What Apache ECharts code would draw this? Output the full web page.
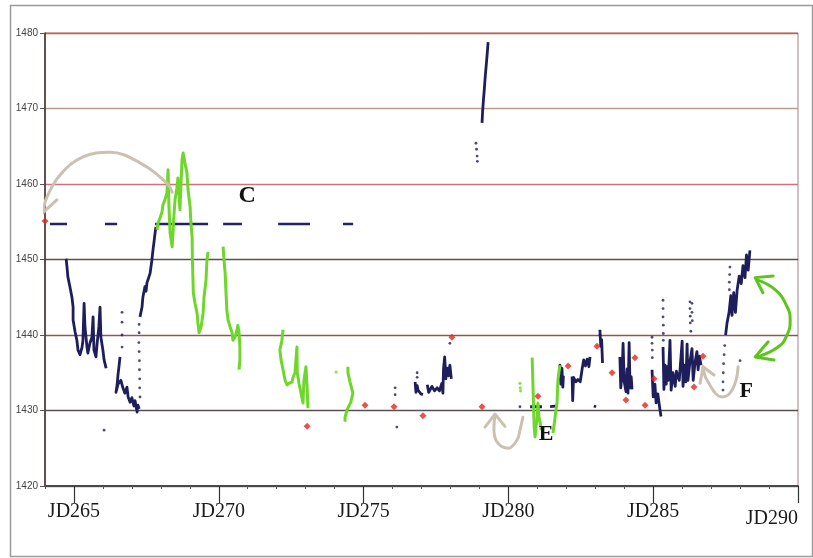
<!DOCTYPE html>
<html>
<head>
<meta charset="utf-8">
<script src="https://cdn.jsdelivr.net/npm/echarts@6/dist/echarts.min.js"></script>
<style>
  html, body { margin: 0; padding: 0; background: #ffffff; }
  #chart { width: 813px; height: 558px; }
</style>
</head>
<body>
<div id="chart"></div>
<script>
// ---- axis ranges and tick labels ----
const dayMin = 264, dayMax = 290;
const levelMin = 1420, levelMax = 1480, levelStep = 10;
const dayLabels = [265, 270, 275, 280, 285, 290];

// ---- continuous logger traces (Julian day, level) ----
const navyTraces = [
  [[264.73,1450.1],[264.76,1449.0],[264.79,1447.7],[264.86,1446.4],[264.93,1445.0],[264.97,1443.7],[264.97,1442.0],[265.04,1440.4],[265.10,1439.3],[265.14,1438.0],[265.21,1437.4],[265.28,1438.4],[265.31,1439.3],[265.35,1444.2],[265.38,1441.1],[265.45,1438.4],[265.48,1437.6],[265.55,1438.9],[265.62,1439.7],[265.66,1442.4],[265.69,1438.0],[265.76,1437.1],[265.80,1438.9],[265.86,1441.1],[265.90,1443.7],[265.93,1439.7],[266.00,1438.0],[266.04,1436.7],[266.11,1435.6]],
  [[266.59,1437.1],[266.56,1436.0],[266.52,1434.7],[266.49,1433.4],[266.45,1432.4],[266.52,1433.5],[266.62,1434.0],[266.69,1433.0],[266.76,1432.3],[266.83,1433.1],[266.87,1431.8],[266.94,1431.1],[267.00,1431.7],[267.07,1430.6],[267.11,1431.3],[267.18,1429.8],[267.21,1430.7],[267.25,1430.2]],
  [[267.28,1442.4],[267.35,1443.7],[267.38,1445.0],[267.45,1446.4],[267.49,1445.8],[267.52,1446.9],[267.58,1447.6],[267.63,1448.2],[267.66,1448.0],[267.69,1449.9],[267.73,1451.3],[267.76,1452.2],[267.80,1453.5],[267.83,1454.3]],
  [[276.78,1433.8],[276.80,1432.8],[276.81,1432.4],[276.85,1433.3],[276.88,1432.7],[276.93,1432.9],[276.98,1432.2],[277.05,1432.1]],
  [[277.20,1433.4],[277.25,1432.4],[277.29,1432.7],[277.36,1433.2],[277.45,1432.6],[277.54,1433.0],[277.62,1432.6],[277.70,1433.6],[277.74,1432.3],[277.76,1435.5],[277.80,1437.1],[277.84,1434.2],[277.88,1435.6],[277.93,1434.6],[277.98,1436.0],[278.03,1434.2]],
  [[279.09,1468.1],[279.11,1469.6],[279.14,1471.2],[279.17,1472.6],[279.20,1474.2],[279.23,1475.5],[279.27,1477.3],[279.30,1478.8]],
  [[280.75,1430.5],[281.16,1430.5]],
  [[281.44,1430.5],[281.71,1430.6]],
  [[281.76,1434.0],[281.78,1436.0],[281.81,1433.5],[281.85,1435.6],[281.88,1433.1],[281.90,1434.6]],
  [[282.20,1434.5],[282.22,1431.3],[282.25,1434.4],[282.33,1433.8],[282.40,1434.1],[282.48,1433.8],[282.55,1435.6],[282.60,1436.7],[282.66,1435.9],[282.72,1436.8],[282.78,1435.8],[282.82,1437.1]],
  [[282.95,1430.6],[283.03,1430.5]],
  [[283.16,1440.7],[283.19,1438.5],[283.22,1439.4],[283.25,1436.3]],
  [[283.85,1437.1],[283.88,1433.0],[283.93,1435.0],[283.96,1438.9],[284.00,1433.8],[284.06,1432.5],[284.10,1435.5],[284.13,1432.3],[284.17,1439.0],[284.20,1433.0],[284.24,1434.5],[284.27,1432.8]],
  [[284.96,1435.4],[285.00,1431.8],[285.06,1433.5],[285.10,1431.0],[285.16,1432.2],[285.23,1430.2],[285.27,1429.2]],
  [[285.34,1438.4],[285.37,1432.8],[285.41,1436.0],[285.45,1433.5],[285.48,1435.8],[285.52,1434.0],[285.58,1439.3],[285.62,1432.7],[285.68,1435.0],[285.76,1433.2],[285.80,1435.2],[285.90,1434.0],[286.00,1439.2],[286.03,1433.2],[286.08,1436.0],[286.13,1433.8],[286.17,1438.8],[286.20,1434.0],[286.27,1436.5],[286.34,1438.2],[286.38,1434.0],[286.45,1436.5],[286.51,1437.8],[286.55,1435.4],[286.60,1437.2],[286.65,1436.0]],
  [[287.50,1440.0],[287.55,1441.6],[287.62,1443.0],[287.68,1445.2],[287.72,1442.6],[287.78,1445.6],[287.84,1443.0],[287.90,1446.0],[287.97,1447.8],[288.04,1446.8],[288.10,1449.2],[288.17,1447.6],[288.22,1450.6],[288.28,1448.6],[288.34,1451.2]]
];

const navyDots = [
  [266.66,1443.0],[266.66,1441.7],[266.66,1440.0],[266.66,1438.4],[266.04,1427.4],
  [267.25,1441.4],[267.25,1440.3],[267.24,1439.0],[267.25,1437.8],[267.26,1436.6],[267.26,1435.4],[267.27,1434.2],[267.27,1433.0],[267.28,1431.8],
  [276.09,1433.0],[276.09,1432.1],[276.15,1427.8],[276.85,1435.0],[276.85,1434.4],[277.98,1438.9],
  [278.88,1465.4],[278.90,1464.6],[278.92,1463.7],[278.93,1463.0],
  [280.40,1430.5],[283.16,1440.0],
  [284.96,1439.7],[284.96,1438.9],[284.97,1438.0],[284.97,1437.0],
  [285.34,1444.6],[285.34,1443.5],[285.34,1442.4],[285.35,1441.3],[285.35,1440.2],[285.35,1439.3],
  [286.27,1444.4],[286.27,1443.5],[286.28,1442.5],[286.28,1441.6],[286.30,1440.5],
  [286.34,1444.2],[286.34,1443.0],[286.35,1441.9],
  [287.41,1432.7],[287.41,1433.8],[287.42,1435.0],[287.43,1436.2],[287.45,1437.4],[287.47,1438.6],
  [287.65,1449.0],[287.64,1448.0],[287.63,1447.0],[287.63,1446.0],[288.00,1436.6]
];

const greenTraces = [
  [[267.87,1453.9],[267.90,1454.8],[267.97,1455.5],[268.04,1456.3],[268.07,1457.2],[268.14,1457.9],[268.21,1458.8],[268.25,1461.9],[268.28,1457.0],[268.32,1453.5],[268.39,1451.7],[268.42,1453.5],[268.44,1455.2],[268.49,1457.9],[268.56,1459.6],[268.59,1460.8],[268.66,1456.6],[268.73,1463.2],[268.77,1464.1],[268.83,1462.8],[268.90,1461.5],[268.94,1459.2],[269.01,1457.0],[269.04,1454.8],[269.08,1453.0],[269.09,1449.9],[269.11,1447.3],[269.12,1445.6],[269.18,1444.2],[269.25,1442.9],[269.28,1441.6],[269.32,1440.3],[269.39,1441.1],[269.46,1442.9],[269.49,1445.0],[269.56,1447.3],[269.59,1449.9],[269.63,1451.0]],
  [[270.15,1451.7],[270.18,1449.9],[270.22,1448.2],[270.25,1445.6],[270.28,1443.3],[270.32,1442.0],[270.39,1441.1],[270.46,1440.3],[270.49,1439.3],[270.56,1439.7],[270.63,1440.7],[270.66,1441.3],[270.70,1440.3],[270.73,1438.4],[270.73,1436.7],[270.70,1435.4]],
  [[272.22,1440.7],[272.18,1439.3],[272.11,1438.0],[272.15,1436.7],[272.22,1435.4],[272.29,1434.0],[272.36,1433.4],[272.43,1433.6],[272.53,1433.8],[272.56,1434.3],[272.63,1435.0],[272.70,1438.4],[272.71,1435.0],[272.77,1433.6],[272.84,1432.3],[272.91,1431.0],[272.94,1434.0],[273.01,1435.8],[273.05,1433.1],[273.08,1430.3]],
  [[274.46,1435.8],[274.46,1435.0],[274.53,1433.8],[274.63,1432.3],[274.56,1431.1],[274.43,1430.1],[274.36,1429.1],[274.36,1428.5]],
  [[280.82,1437.0],[280.84,1434.5],[280.85,1433.1],[280.87,1430.5],[280.89,1427.8],[280.92,1426.5],[280.96,1428.0],[280.99,1428.7],[281.02,1431.0],[281.06,1429.0],[281.10,1428.4],[281.13,1427.4]],
  [[281.54,1427.0],[281.60,1428.7],[281.64,1430.0],[281.68,1431.0],[281.71,1434.0],[281.75,1435.2],[281.78,1436.0]]
];

const greenDots = [
  [274.05,1435.1],[280.40,1433.6],[280.41,1433.0],[280.42,1432.6]
];

// ---- reference level shown as dashes ----
const refLevel = 1454.7;
const refDashes = [[264.17,264.76],[266.07,266.49],[267.80,269.63],[270.15,270.80],[272.05,273.15],[274.29,274.64]];

// ---- daily spot measurements ----
const spotChecks = [
  [264.00,1455.1],[273.05,1427.9],[275.05,1430.7],[276.05,1430.5],[277.05,1429.3],[278.05,1439.7],
  [279.09,1430.5],[281.02,1431.9],[282.06,1435.9],[283.06,1438.5],[283.58,1435.0],[284.06,1431.4],
  [284.37,1437.0],[284.72,1430.7],[285.03,1434.2],[286.41,1433.1],[286.72,1437.2]
];

// ---- hand-drawn annotations (in chart units) ----
const tanStrokes = [
  { smooth: 0.4, pts: [[263.93,1456.2],[264.07,1458.3],[264.52,1461.2],[265.31,1463.6],[266.24,1464.2],[267.28,1462.8],[268.21,1460.1],[268.39,1458.9]] },
  { smooth: 0, pts: [[263.72,1458.1],[263.93,1456.2],[264.41,1457.9]] },
  { smooth: 0, pts: [[279.19,1427.8],[279.54,1429.5],[279.88,1427.9]] },
  { smooth: 0.4, pts: [[279.54,1429.5],[279.50,1427.6],[279.61,1425.8],[279.99,1425.0],[280.30,1426.1],[280.40,1427.4],[280.50,1429.1]] },
  { smooth: 0, pts: [[286.62,1433.6],[286.72,1435.8],[287.10,1434.7]] },
  { smooth: 0.4, pts: [[286.72,1435.8],[286.86,1434.0],[287.38,1431.8],[287.65,1432.3],[287.86,1434.0],[287.93,1435.8]] }
];
const greenStrokes = [
  { smooth: 0.5, pts: [[288.59,1447.3],[289.21,1446.0],[289.59,1444.0],[289.73,1442.0],[289.62,1440.0],[289.31,1438.4],[288.59,1437.1]] },
  { smooth: 0, pts: [[289.14,1447.8],[288.52,1447.6],[288.79,1445.6]] },
  { smooth: 0, pts: [[288.97,1439.1],[288.52,1437.1],[289.17,1436.7]] }
];
const letters = [
  { name: 'C', at: [270.98,1458.5], size: 24 },
  { name: 'E', at: [281.30,1426.9], size: 22 },
  { name: 'F', at: [288.21,1432.6], size: 22 }
];

// ---- colours ----
const navy = '#1e1e5c';
const lime = '#6fd62c';
const red = '#e4281c';
const tan = '#cbc1b0';
const arrowGreen = '#5cc41c';
const gridColors = ['#777777', '#585050', '#8a5a52', '#5c5048', '#cf6e7c', '#bb9c8c', '#c8603e'];

const series = [];

refDashes.forEach(d => series.push({
  type: 'line', data: [[d[0], refLevel], [d[1], refLevel]], symbol: 'none',
  lineStyle: { color: '#22226a', width: 2.5 }, z: 2, silent: true
}));

navyTraces.forEach(t => series.push({
  type: 'line', data: t, symbol: 'none',
  lineStyle: { color: navy, width: 2.8, join: 'round' }, z: 3, silent: true
}));
series.push({ type: 'scatter', data: navyDots, symbol: 'circle', symbolSize: 2.8,
  itemStyle: { color: navy }, z: 3, silent: true });

greenTraces.forEach(t => series.push({
  type: 'line', data: t, symbol: 'none',
  lineStyle: { color: lime, width: 3, join: 'round' }, z: 4, silent: true
}));
series.push({ type: 'scatter', data: greenDots, symbol: 'circle', symbolSize: 3.2,
  itemStyle: { color: lime }, z: 4, silent: true });

series.push({ type: 'scatter', data: spotChecks, symbol: 'diamond', symbolSize: 7,
  itemStyle: { color: red }, z: 6, silent: true, clip: false });

tanStrokes.forEach(s => series.push({
  type: 'line', data: s.pts, smooth: s.smooth, symbol: 'none', clip: false,
  lineStyle: { color: tan, width: 3, cap: 'round', join: 'round' }, z: 5, silent: true
}));
greenStrokes.forEach(s => series.push({
  type: 'line', data: s.pts, smooth: s.smooth, symbol: 'none', clip: false,
  lineStyle: { color: arrowGreen, width: 3, cap: 'round', join: 'round' }, z: 5, silent: true
}));

const chart = echarts.init(document.getElementById('chart'), null, { renderer: 'canvas' });
chart.setOption({
  animation: false,
  backgroundColor: '#ffffff',
  grid: { left: 45, right: 15, top: 33, bottom: 72, show: true,
    borderColor: '#a08484', borderWidth: 1, backgroundColor: 'transparent' },
  xAxis: [
    {
      type: 'value', min: dayMin, max: dayMax, interval: 1, position: 'bottom',
      axisLine: { show: true, lineStyle: { color: '#4a4848', width: 2 } },
      axisTick: { show: true, length: 3, lineStyle: { color: '#555', width: 1 } },
      axisLabel: { show: false },
      splitLine: { show: false }
    },
    {
      type: 'value', min: dayMin, max: dayMax, position: 'bottom',
      axisLine: { show: false },
      axisTick: { show: true, customValues: dayLabels, length: 17,
        lineStyle: { color: '#333', width: 1.2 } },
      axisLabel: {
        customValues: dayLabels, margin: 16, alignMaxLabel: 'right',
        fontFamily: 'Liberation Serif', fontSize: 20, color: '#1a1a1a',
        formatter: v => v === dayMax ? '{low|JD' + v + '}' : 'JD' + v,
        rich: { low: { fontFamily: 'Liberation Serif', fontSize: 20, color: '#1a1a1a', padding: [7, 0, 0, 0] } }
      },
      splitLine: { show: false }
    }
  ],
  yAxis: {
    type: 'value', min: levelMin, max: levelMax, interval: levelStep,
    axisLine: { show: true, lineStyle: { color: '#3c2c2a', width: 1.5 } },
    axisTick: { show: true, length: 5, lineStyle: { color: '#555' } },
    axisLabel: { fontFamily: 'Liberation Sans', fontSize: 10, color: '#444', margin: 7,
      formatter: v => String(v) },
    splitLine: { show: true, lineStyle: { color: gridColors, width: 1.3 } }
  },
  series: series
});

// Outer frame plus letter markers placed at chart coordinates
const frame = {
  type: 'rect', id: 'frame', left: 8, top: 3, silent: true,
  shape: { width: 802, height: 551 },
  style: { fill: 'none', stroke: '#9c9c9c', lineWidth: 1.5 }
};
const letterMarks = letters.map(l => {
  const p = chart.convertToPixel({ gridIndex: 0 }, l.at);
  return {
    type: 'text', id: 'letter-' + l.name, x: p[0], y: p[1], silent: true, z: 10,
    style: { text: l.name, fill: '#111', align: 'center', verticalAlign: 'middle',
      font: 'bold ' + l.size + 'px "Liberation Serif", serif' }
  };
});
chart.setOption({ graphic: [frame].concat(letterMarks) });
</script>
</body>
</html>
